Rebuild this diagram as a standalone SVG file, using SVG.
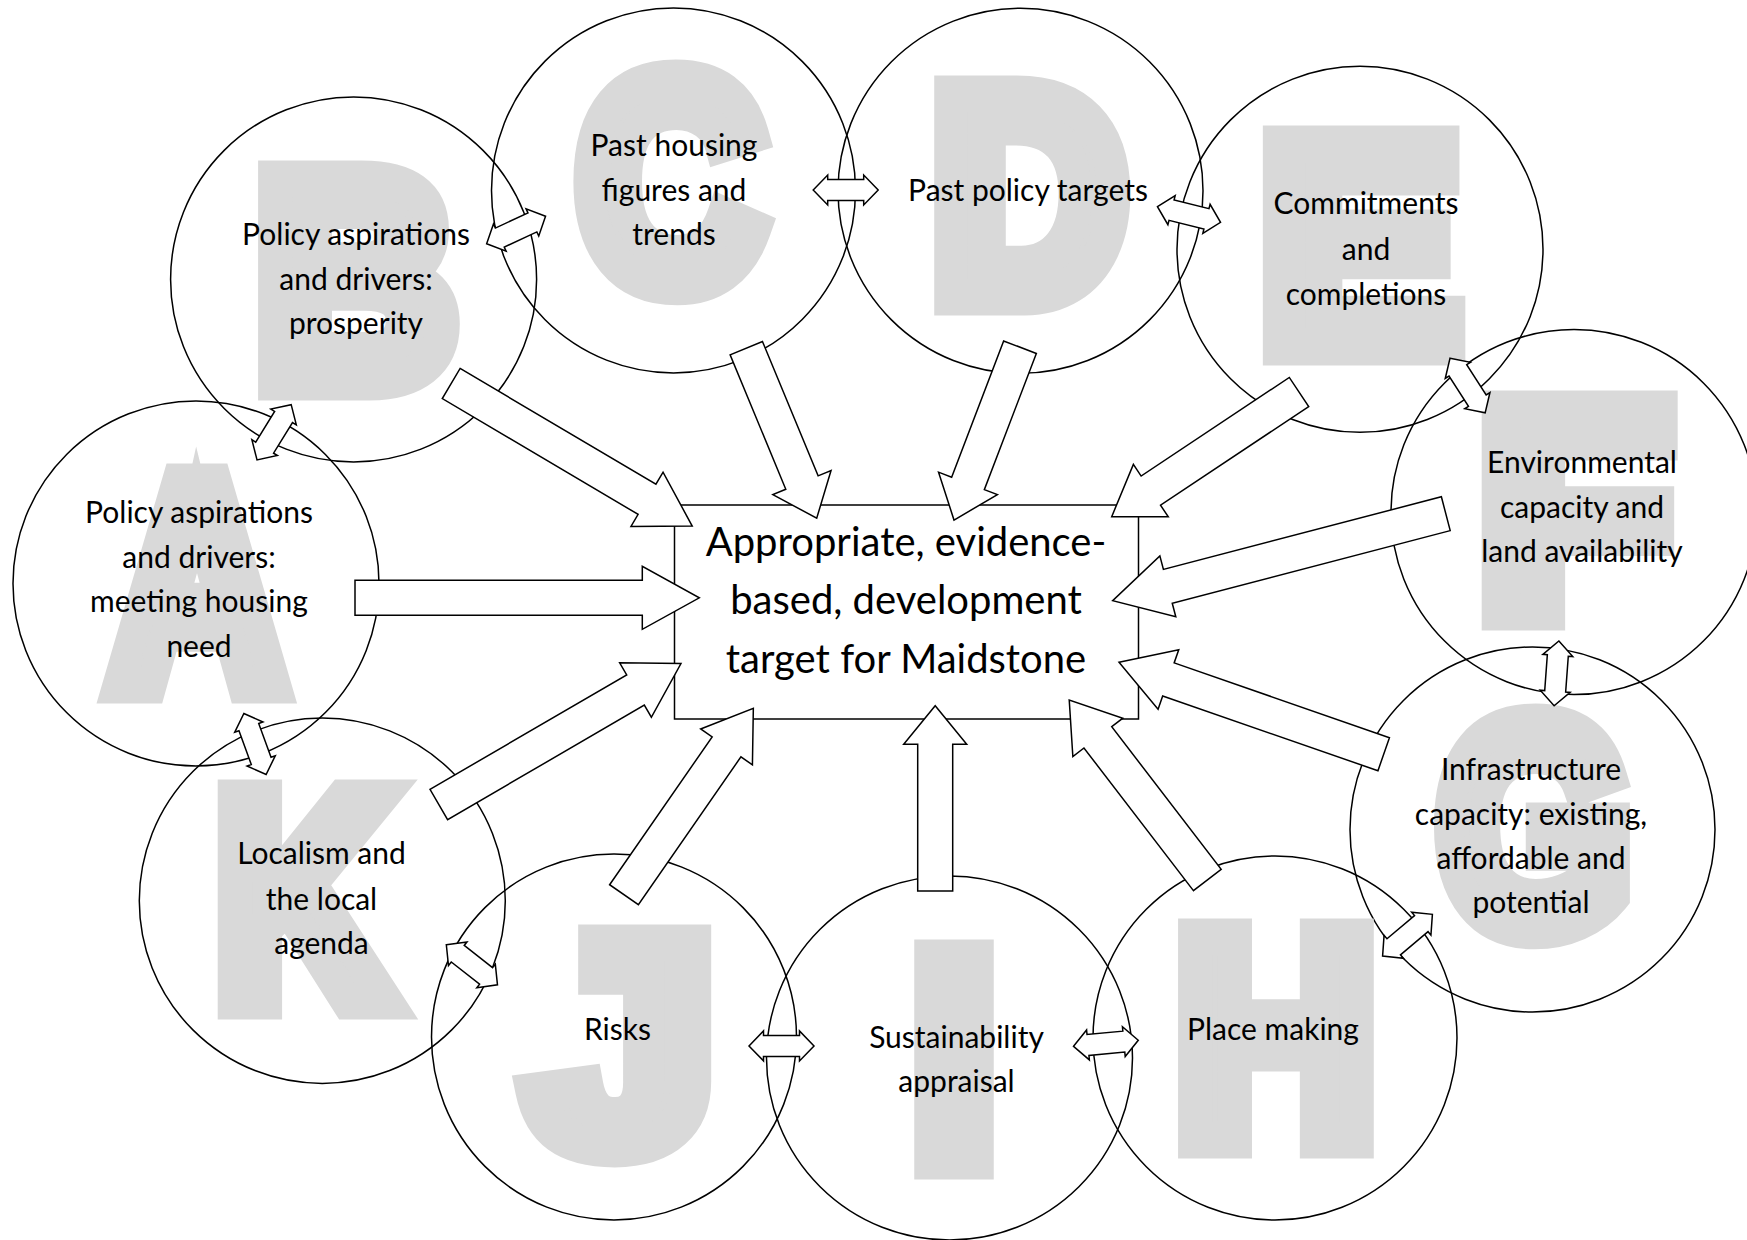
<svg xmlns="http://www.w3.org/2000/svg" width="1747" height="1240" viewBox="0 0 1747 1240">
<style>
.bg{fill:#ffffff}
.big{font-family:"Liberation Sans",Arial,sans-serif;font-weight:bold;font-size:295px;fill:#d9d9d9;stroke:#d9d9d9;stroke-width:37;stroke-linejoin:miter;stroke-miterlimit:10;text-anchor:middle}
.ring{fill:none;stroke:#000;stroke-width:1.5}
.lbl{font-family:Lato,"Open Sans",sans-serif;font-size:30px;fill:#000;text-anchor:middle}
.main{font-family:Lato,"Open Sans",sans-serif;font-size:40px;fill:#000;text-anchor:middle}
.box{fill:#fff;stroke:#000;stroke-width:1.5}
.arr{fill:#fff;stroke:#000;stroke-width:1.5;stroke-linejoin:miter}
</style>
<defs>
<path id="dbl" d="M-32.5,0 L-18,-15 V-10.5 H18 V-15 L32.5,0 L18,15 V10.5 H-18 V15 Z"/>
</defs>
<rect class="bg" x="0" y="0" width="1747" height="1240"/>

<g id="node-A">
<text class="big" x="197" y="685" transform="translate(197,0) scale(0.8,1) translate(-197,0)">A</text>
<ellipse class="ring" cx="196" cy="583.5" rx="183" ry="182.5"/>
<text class="lbl" x="199" y="523">Policy aspirations</text>
<text class="lbl" x="199" y="568">and drivers:</text>
<text class="lbl" x="199" y="612">meeting housing</text>
<text class="lbl" x="199" y="657">need</text>
</g>
<g id="node-B">
<text class="big" x="356" y="382" transform="translate(356,0) scale(0.93,1) translate(-356,0)">B</text>
<ellipse class="ring" cx="353.6" cy="279.4" rx="183" ry="182.5"/>
<text class="lbl" x="356" y="245">Policy aspirations</text>
<text class="lbl" x="356" y="289.5">and drivers:</text>
<text class="lbl" x="356" y="334">prosperity</text>
</g>
<g id="node-C">
<text class="big" x="670.5" y="284" transform="translate(670.5,0) scale(0.86,1) translate(-670.5,0)">C</text>
<ellipse class="ring" cx="673.5" cy="190.4" rx="182" ry="182.5"/>
<text class="lbl" x="674" y="156">Past housing</text>
<text class="lbl" x="674" y="200.5">figures and</text>
<text class="lbl" x="674" y="245">trends</text>
</g>
<g id="node-D">
<text class="big" x="1029" y="297" transform="translate(1029,0) scale(0.9,1) translate(-1029,0)">D</text>
<ellipse class="ring" cx="1020.5" cy="190.8" rx="182.5" ry="182.5"/>
<text class="lbl" x="1028" y="201">Past policy targets</text>
</g>
<g id="node-E">
<text class="big" x="1360" y="347">E</text>
<ellipse class="ring" cx="1360" cy="249.3" rx="183" ry="183"/>
<text class="lbl" x="1366" y="214">Commitments</text>
<text class="lbl" x="1366" y="260">and</text>
<text class="lbl" x="1366" y="304.5">completions</text>
</g>
<g id="node-F">
<text class="big" x="1575" y="612" transform="translate(1575,0) scale(1.05,1) translate(-1575,0)">F</text>
<ellipse class="ring" cx="1574" cy="512" rx="183" ry="182.5"/>
<text class="lbl" x="1582" y="472.5">Environmental</text>
<text class="lbl" x="1582" y="517.5">capacity and</text>
<text class="lbl" x="1582" y="562">land availability</text>
</g>
<g id="node-G">
<text class="big" x="1534.5" y="928" transform="translate(1534.5,0) scale(0.83,1) translate(-1534.5,0)">G</text>
<ellipse class="ring" cx="1532.5" cy="829.5" rx="182.5" ry="182.5"/>
<text class="lbl" x="1531" y="780">Infrastructure</text>
<text class="lbl" x="1531" y="825">capacity: existing,</text>
<text class="lbl" x="1531" y="869">affordable and</text>
<text class="lbl" x="1531" y="913">potential</text>
</g>
<g id="node-H">
<text class="big" x="1276" y="1140" transform="translate(1276,0) scale(0.93,1) translate(-1276,0)">H</text>
<ellipse class="ring" cx="1275" cy="1038" rx="182" ry="182"/>
<text class="lbl" x="1273" y="1040">Place making</text>
</g>
<g id="node-I">
<text class="big" x="954" y="1161">I</text>
<ellipse class="ring" cx="949.5" cy="1058" rx="183" ry="182"/>
<text class="lbl" x="956.5" y="1048">Sustainability</text>
<text class="lbl" x="956.5" y="1092">appraisal</text>
</g>
<g id="node-J">
<text class="big" x="622" y="1146" transform="translate(622,0) scale(1.11,1) translate(-622,0)">J</text>
<ellipse class="ring" cx="614" cy="1037" rx="182.5" ry="183"/>
<text class="lbl" x="617.5" y="1040">Risks</text>
</g>
<g id="node-K">
<text class="big" x="303" y="1001" transform="translate(303,0) scale(0.81,1) translate(-303,0)">K</text>
<ellipse class="ring" cx="322.3" cy="900.7" rx="183" ry="182.7"/>
<text class="lbl" x="321.5" y="864">Localism and</text>
<text class="lbl" x="321.5" y="909.5">the local</text>
<text class="lbl" x="321.5" y="954">agenda</text>
</g>

<g id="node-target">
<rect class="box" x="674.5" y="505" width="464" height="214"/>
<text class="main" x="906" y="555.5">Appropriate, evidence-</text>
<text class="main" x="906" y="614.3">based, development</text>
<text class="main" x="906" y="673">target for Maidstone</text>
</g>

<g id="connectors">
<path class="arr" transform="translate(355,597.8) rotate(0)" d="M0,-17.5H287.3V-31.5L344.3,0L287.3,31.5V17.5H0Z"/>
<path class="arr" transform="translate(451.2,383.5) rotate(30.6)" d="M0,-17.5H227.5V-31.5L280,0L227.5,31.5V17.5H0Z"/>
<path class="arr" transform="translate(746.3,348.2) rotate(67.5)" d="M0,-17.5H145.4V-31.5L184,0L145.4,31.5V17.5H0Z"/>
<path class="arr" transform="translate(1020,347.2) rotate(110.9)" d="M0,-17.5H145.8V-31.5L185,0L145.8,31.5V17.5H0Z"/>
<path class="arr" transform="translate(1299,392) rotate(146.35)" d="M0,-17.5H178V-31.5L225,0L178,31.5V17.5H0Z"/>
<path class="arr" transform="translate(1445.8,513.7) rotate(165.36)" d="M0,-17.5H287.3V-31.5L344.3,0L287.3,31.5V17.5H0Z"/>
<path class="arr" transform="translate(1383.7,754.2) rotate(199.15)" d="M0,-17.5H227.9V-31.5L280.2,0L227.9,31.5V17.5H0Z"/>
<path class="arr" transform="translate(1207.3,880) rotate(232.5)" d="M0,-17.5H179.8V-31.5L226.8,0L179.8,31.5V17.5H0Z"/>
<path class="arr" transform="translate(935.2,891) rotate(-90)" d="M0,-17.5H146.7V-31.5L185.3,0L146.7,31.5V17.5H0Z"/>
<path class="arr" transform="translate(624,894.7) rotate(-55.25)" d="M0,-17.5H179.9V-31.5L226.9,0L179.9,31.5V17.5H0Z"/>
<path class="arr" transform="translate(438.8,804.5) rotate(-30.2)" d="M0,-17.5H227.6V-31.5L280.2,0L227.6,31.5V17.5H0Z"/>

<use href="#dbl" class="arr" transform="translate(274.1,432.3) rotate(121.7)"/>
<use href="#dbl" class="arr" transform="translate(516.1,230) rotate(-25)"/>
<use href="#dbl" class="arr" transform="translate(845.7,190) rotate(0)"/>
<use href="#dbl" class="arr" transform="translate(1189,214.5) rotate(14)"/>
<use href="#dbl" class="arr" transform="translate(1467.6,385.5) rotate(57.3)"/>
<use href="#dbl" class="arr" transform="translate(1556.5,673.4) rotate(94.2)"/>
<use href="#dbl" class="arr" transform="translate(1407.5,935.2) rotate(-40)"/>
<use href="#dbl" class="arr" transform="translate(1105.9,1043.3) rotate(-5.3)"/>
<use href="#dbl" class="arr" transform="translate(781.5,1045.9) rotate(0)"/>
<use href="#dbl" class="arr" transform="translate(471.9,964.8) rotate(38.1)"/>
<use href="#dbl" class="arr" transform="translate(255,744) rotate(70)"/>
</g>
</svg>
